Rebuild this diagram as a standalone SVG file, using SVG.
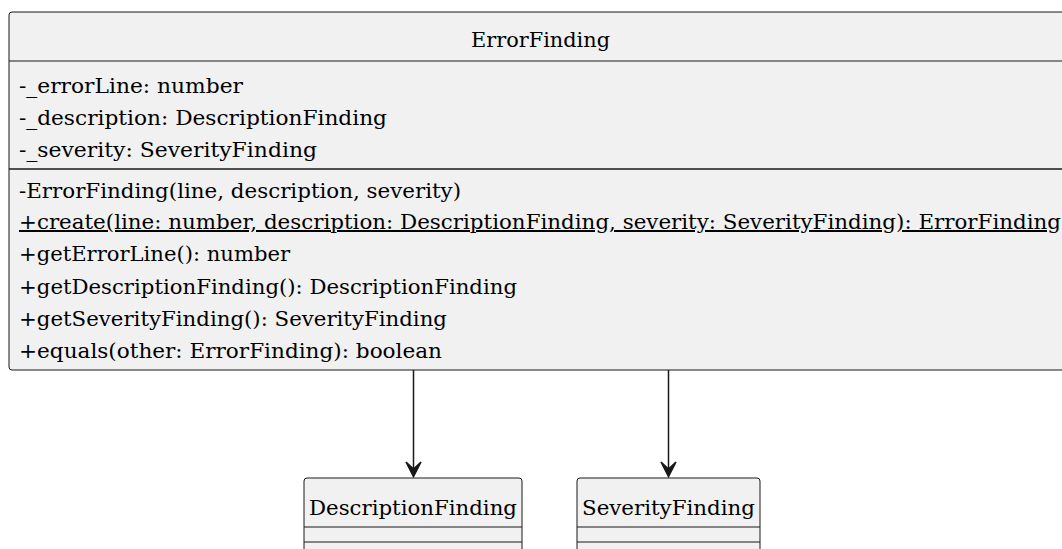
<svg xmlns="http://www.w3.org/2000/svg" width="1062" height="549" viewBox="0 0 1062 549">
  <defs>
    <style>
      .box { fill: #F1F1F1; stroke: #181818; stroke-width: 1; }
      .sep { stroke: #181818; stroke-width: 1; }
      .sep2 { stroke: #181818; stroke-width: 1.5; }
      .t { font-family: "DejaVu Serif", "Liberation Serif", serif; font-size: 20px; fill: #000000; }
      .edge { stroke: #181818; stroke-width: 1.5; fill: none; }
      .head { fill: #181818; stroke: #181818; stroke-width: 1.5; stroke-linejoin: miter; }
    </style>
  </defs>
  <rect width="1062" height="549" fill="#FFFFFF"/>

  <g id="ErrorFinding">
    <rect class="box" x="9" y="12" width="1070" height="358" rx="3" ry="3"/>
    <text class="t" x="471" y="47" textLength="139" lengthAdjust="spacingAndGlyphs">ErrorFinding</text>
    <line class="sep" x1="9" y1="61" x2="1070" y2="61"/>
    <text class="t" x="19" y="93" textLength="224" lengthAdjust="spacingAndGlyphs">-_errorLine: number</text>
    <text class="t" x="19" y="125" textLength="368" lengthAdjust="spacingAndGlyphs">-_description: DescriptionFinding</text>
    <text class="t" x="19" y="157" textLength="298" lengthAdjust="spacingAndGlyphs">-_severity: SeverityFinding</text>
    <line class="sep2" x1="9" y1="169" x2="1070" y2="169"/>
    <text class="t" x="19" y="198" textLength="442" lengthAdjust="spacingAndGlyphs">-ErrorFinding(line, description, severity)</text>
    <text class="t" x="19" y="229" textLength="1042" lengthAdjust="spacingAndGlyphs" text-decoration="underline">+create(line: number, description: DescriptionFinding, severity: SeverityFinding): ErrorFinding</text>
    <text class="t" x="19" y="261" textLength="271" lengthAdjust="spacingAndGlyphs">+getErrorLine(): number</text>
    <text class="t" x="19" y="294" textLength="498" lengthAdjust="spacingAndGlyphs">+getDescriptionFinding(): DescriptionFinding</text>
    <text class="t" x="19" y="326" textLength="428" lengthAdjust="spacingAndGlyphs">+getSeverityFinding(): SeverityFinding</text>
    <text class="t" x="19" y="358" textLength="423" lengthAdjust="spacingAndGlyphs">+equals(other: ErrorFinding): boolean</text>
  </g>

  <g id="DescriptionFinding">
    <rect class="box" x="304" y="478" width="218" height="90" rx="3" ry="3"/>
    <text class="t" x="309" y="515" textLength="208" lengthAdjust="spacingAndGlyphs">DescriptionFinding</text>
    <line class="sep" x1="304" y1="527" x2="522" y2="527"/>
    <line class="sep" x1="304" y1="542" x2="522" y2="542"/>
  </g>

  <g id="SeverityFinding">
    <rect class="box" x="577" y="478" width="183" height="90" rx="3" ry="3"/>
    <text class="t" x="582" y="515" textLength="173" lengthAdjust="spacingAndGlyphs">SeverityFinding</text>
    <line class="sep" x1="577" y1="527" x2="760" y2="527"/>
    <line class="sep" x1="577" y1="542" x2="760" y2="542"/>
  </g>

  <g id="connectors">
    <line class="edge" x1="413.5" y1="370" x2="413.5" y2="469"/>
    <polygon class="head" points="406,462 413.5,476.5 421,462 413.5,469"/>
    <line class="edge" x1="668.5" y1="370" x2="668.5" y2="469"/>
    <polygon class="head" points="661,462 668.5,476.5 676,462 668.5,469"/>
  </g>
</svg>
